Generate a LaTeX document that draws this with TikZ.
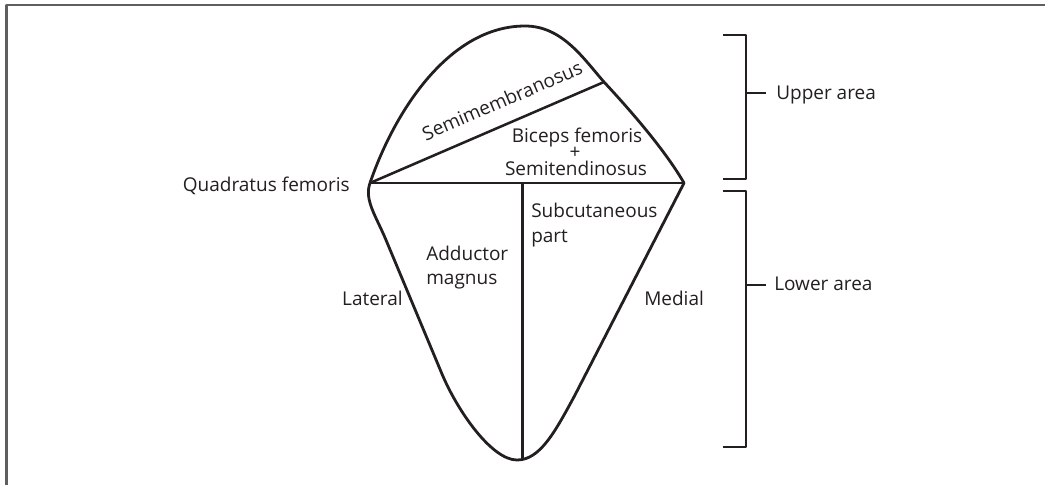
\documentclass[tikz,border=0pt]{standalone}
\usepackage{fontspec}
\setmainfont{Open Sans}
\definecolor{ink}{HTML}{231F20}
\definecolor{framegray}{HTML}{5F5F5F}
\begin{document}
\begin{tikzpicture}[x=0.75pt,y=-0.75pt,line join=round,
  lbl/.style={font=\fontsize{14.25}{17}\selectfont, text=ink, inner sep=0pt},
  outline/.style={draw=ink, line width=2.1pt},
  divider/.style={draw=ink, line width=1.9pt},
  brk/.style={draw=ink, line width=1.7pt}]
\useasboundingbox (0,0) rectangle (1045,485);
% frame
\coordinate (F1) at (1045,5);
\coordinate (F2) at (6.5,5);
\coordinate (F3) at (6.5,485);
\draw[framegray, line width=1.6pt] (F1) -- (F2) -- (F3);
% key points
\coordinate (L) at (370,183);
\coordinate (R) at (684,183);
\coordinate (M) at (604,82);
\coordinate (Vt) at (522.5,183);
\coordinate (Vb) at (522.5,459);
% outline
\draw[outline] (L) .. controls (395,110) and (450,26) .. (525,26)
  .. controls (562,26) and (583,58) .. (M)
  .. controls (630,110) and (665,150) .. (R) -- (575,395)
  .. controls (555,432) and (540,460) .. (517,460)
  .. controls (492,460) and (458,412) .. (442,374) -- (386,240)
  .. controls (376,216) and (364,200) .. cycle;
% dividers
\draw[divider] (L) -- (M);
\draw[divider] (L) -- (R);
\draw[divider] (Vt) -- (Vb);
% labels
\node[lbl, anchor=base east] (qf) at (350,191) {Quadratus femoris};
\node[lbl, anchor=base, rotate=23.3] (smb) at (505,107) {Semimembranosus};
\node[lbl, anchor=base] (bf) at (577,142) {Biceps femoris};
\node[lbl, anchor=center] (plus) at (575,153) {+};
\node[lbl, anchor=base] (st) at (576,175) {Semitendinosus};
\node[lbl, anchor=base west] (sc1) at (531,217) {Subcutaneous};
\node[lbl, anchor=base west] (sc2) at (531,242) {part};
\node[lbl, anchor=base west] (am1) at (426,260) {Adductor};
\node[lbl, anchor=base west] (am2) at (426,284) {magnus};
\node[lbl, anchor=base east] (lat) at (403,305) {Lateral};
\node[lbl, anchor=base west] (med) at (644,305) {Medial};
\node[lbl, anchor=base west] (up) at (776,99) {Upper area};
\node[lbl, anchor=base west] (lo) at (774,290) {Lower area};
% brackets
\coordinate (U1) at (723,35);
\coordinate (U2) at (746,35);
\coordinate (U3) at (746,179);
\coordinate (U4) at (723,179);
\coordinate (Ut) at (746,93);
\coordinate (Ue) at (766,93);
\draw[brk] (U1) -- (U2) -- (U3) -- (U4);
\draw[brk] (Ut) -- (Ue);
\coordinate (D1) at (723,191);
\coordinate (D2) at (746,191);
\coordinate (D3) at (746,447);
\coordinate (D4) at (723,447);
\coordinate (Dt) at (746,285);
\coordinate (De) at (766,285);
\draw[brk] (D1) -- (D2) -- (D3) -- (D4);
\draw[brk] (Dt) -- (De);
\end{tikzpicture}
\end{document}
